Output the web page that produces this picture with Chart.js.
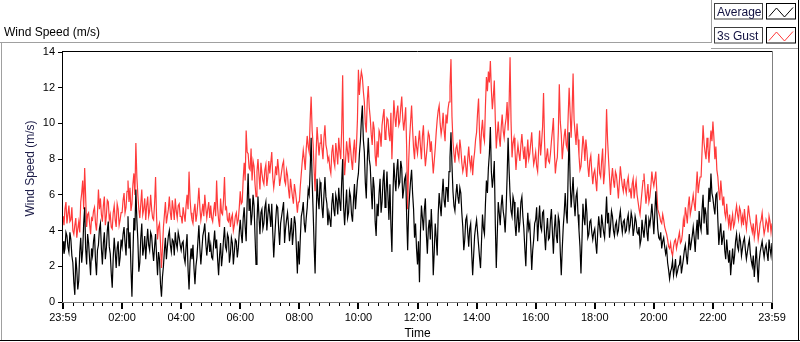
<!DOCTYPE html>
<html><head><meta charset="utf-8">
<script src="https://cdn.jsdelivr.net/npm/chart.js@4.4.0/dist/chart.umd.min.js"></script>
<style>html,body{margin:0;padding:0;background:#fff;}#wrap{width:800px;height:342px;}</style>
</head><body><div id="wrap"><canvas id="c" width="800" height="342"></canvas></div>
<script>
// ---- data ----
const STEP_MIN = 2; // one sample every 2 minutes, 00:00 .. 24:00 (one row per hour)
const tickLabels = ['23:59','02:00','04:00','06:00','08:00','10:00','12:00','14:00','16:00','18:00','20:00','22:00','23:59'];
const seriesNames = ['Average','3s Gust'];
const average = [
 3.4,2.7,3.0,3.9,3.7,3.1,2.8,3.9,3.5,2.6,2.2,1.1,0.4,2.5,1.8,0.7,1.2,2.8,3.6,2.2,2.9,4.4,5.3,3.0,2.1,3.8,3.3,2.4,1.5,3.0,
 2.6,3.4,3.8,2.3,1.5,2.9,3.2,4.1,4.4,3.0,2.1,3.3,3.9,2.4,3.0,4.0,4.5,3.1,2.7,1.6,0.8,2.5,3.6,2.8,1.9,3.0,3.4,2.0,2.5,3.5,
 3.1,3.8,4.2,3.3,2.6,4.1,4.8,3.0,3.9,1.9,0.3,2.6,4.7,4.0,6.3,4.6,3.5,1.7,2.2,3.6,4.4,2.6,3.0,3.7,2.4,3.3,4.1,3.2,2.9,3.9,
 3.7,2.9,2.3,3.1,3.8,2.6,1.5,2.8,2.4,1.0,0.3,1.4,2.0,2.9,3.6,2.4,3.1,3.7,4.0,3.2,2.8,3.5,3.4,2.6,3.9,3.3,3.0,3.9,3.6,3.2,
 2.9,3.3,3.4,2.5,2.2,3.1,3.8,1.8,0.7,2.2,3.0,2.4,3.2,1.9,1.0,2.0,2.5,3.4,4.3,3.0,2.1,2.9,3.7,4.0,4.4,3.3,2.6,3.2,3.9,2.8,
 3.2,2.5,2.4,3.3,4.0,3.0,3.5,2.4,1.5,2.6,3.3,2.0,2.6,3.5,4.2,3.1,2.9,3.8,3.6,2.2,2.7,3.6,3.3,2.1,2.8,3.5,3.4,2.5,3.0,3.9,
 4.6,3.8,3.3,4.7,5.3,4.2,3.4,5.6,7.2,5.1,5.8,4.3,4.9,6.0,5.4,3.7,2.1,4.5,5.9,4.8,3.8,5.0,5.2,4.1,4.4,5.3,5.6,4.0,4.8,5.5,
 4.9,4.2,5.5,3.9,2.5,3.6,4.6,5.4,5.3,4.1,3.2,4.4,4.8,5.2,5.6,3.3,4.1,4.6,5.0,4.3,3.4,4.0,4.7,3.2,3.9,4.8,4.4,3.0,1.6,3.4,
 2.1,3.6,4.8,5.1,5.6,4.4,3.9,4.7,5.3,6.3,6.0,7.4,9.2,6.8,5.1,3.2,1.6,4.5,6.9,5.8,5.2,6.7,6.4,5.3,4.7,6.0,7.0,5.9,5.5,4.3,
 5.0,4.6,4.2,5.5,6.1,5.2,4.8,6.0,5.7,4.9,6.4,5.6,5.1,6.7,8.0,5.3,4.3,5.4,6.3,4.7,5.0,6.2,5.9,4.9,4.5,5.7,6.6,5.2,6.0,6.8,
 7.2,8.3,9.0,10.2,11.0,9.1,8.4,6.7,5.8,7.9,9.2,8.0,7.6,6.3,5.2,7.0,6.4,4.5,3.7,5.5,4.8,6.1,6.9,5.0,5.6,6.8,7.4,5.3,6.1,7.3,
 5.9,4.6,6.6,4.3,2.8,5.9,7.8,6.9,6.2,7.4,8.0,6.5,6.7,7.9,7.5,5.8,6.3,6.9,7.1,4.8,2.9,5.1,6.0,6.8,7.4,6.1,5.2,3.6,4.4,3.0,
 2.1,3.4,1.1,3.9,5.4,4.7,4.0,5.2,5.8,3.8,2.7,4.1,4.6,3.5,5.2,3.9,1.5,2.8,4.4,3.6,2.6,4.9,6.1,5.4,4.8,6.0,6.9,5.7,5.3,6.4,
 6.4,5.6,7.3,8.1,9.5,7.7,6.2,5.4,5.1,6.0,6.6,5.9,5.5,6.4,6.1,5.0,4.2,2.9,3.5,4.6,4.8,3.9,3.1,4.1,4.4,2.8,1.5,2.6,3.7,4.2,
 4.6,3.9,3.2,2.5,1.9,3.4,4.9,4.1,3.8,5.5,6.8,6.1,7.5,8.3,9.8,7.3,6.4,7.0,7.9,4.4,1.9,3.8,5.6,5.0,4.3,5.4,6.0,5.1,4.7,3.9,
 5.2,7.0,9.2,7.4,6.0,5.1,4.8,5.9,5.6,4.4,3.7,4.6,5.3,3.9,4.5,5.6,5.9,4.8,4.1,3.0,2.0,3.8,5.0,4.1,4.4,3.2,1.8,2.9,3.5,4.4,
 4.6,5.3,3.4,4.5,5.4,4.2,4.0,5.0,5.1,3.8,2.9,4.0,4.7,3.5,3.6,4.6,5.2,3.9,2.7,4.1,4.9,3.7,3.3,4.8,4.5,2.8,1.5,3.0,4.2,5.0,
 6.1,5.0,4.4,7.2,9.5,6.8,5.3,6.1,7.0,5.6,4.8,5.9,6.2,4.9,4.0,3.1,1.6,3.4,5.5,4.7,4.3,5.8,5.0,3.6,3.8,4.5,4.6,3.9,3.5,3.9,
 4.1,3.3,2.7,3.9,4.8,4.2,3.6,4.9,4.4,3.9,3.6,4.7,5.9,4.4,5.0,3.6,4.2,5.1,4.8,4.0,3.7,4.3,4.5,3.8,4.0,4.7,5.1,4.4,3.9,4.5,
 4.6,3.9,4.0,4.6,4.9,4.0,4.3,5.0,4.7,3.7,4.1,4.8,4.5,3.9,3.8,4.2,3.2,3.5,4.6,4.0,3.6,4.3,4.9,3.9,3.4,4.6,4.3,4.8,5.5,4.7,
 3.8,5.0,6.2,5.1,4.1,3.6,3.5,3.9,3.0,3.4,3.6,3.1,2.7,3.0,2.2,1.8,1.3,1.7,1.9,2.3,1.5,1.9,2.4,1.5,1.7,2.0,2.1,2.6,1.6,2.0,
 2.4,2.9,3.2,2.6,2.1,3.0,3.8,2.9,3.3,3.7,4.2,3.6,2.8,3.9,4.6,3.5,5.1,4.3,4.0,5.2,6.0,4.4,5.3,4.9,3.8,5.1,6.4,5.6,7.2,6.1,
 5.8,5.3,4.9,6.0,6.1,4.6,3.2,3.9,4.4,3.2,3.6,4.0,2.9,2.4,3.5,2.8,2.2,2.9,1.5,2.3,3.0,2.1,2.6,3.4,3.8,3.1,2.9,3.7,3.4,2.6,
 3.0,3.4,3.6,2.9,2.4,2.8,3.2,3.5,2.7,2.3,2.0,2.6,1.4,2.2,3.1,2.0,1.1,2.3,2.8,3.1,3.4,2.9,2.5,3.0,3.2,2.7,2.3,3.5,3.0,2.6,3.3
];
const gust = [
 4.8,4.3,5.2,5.6,4.4,4.9,5.4,4.5,4.6,5.3,4.0,3.8,4.3,4.7,3.6,4.1,4.5,3.9,5.6,6.1,6.8,5.2,7.5,5.9,4.2,4.9,5.0,4.4,3.8,4.7,
 4.6,5.1,5.3,4.4,4.0,5.0,6.3,5.2,5.8,4.9,4.5,5.4,5.9,4.3,4.8,5.7,5.6,4.6,4.9,4.2,4.1,5.0,5.4,4.6,4.2,5.5,5.2,4.3,4.6,5.0,
 5.0,5.7,6.1,5.0,5.3,6.2,6.8,5.6,6.4,5.1,5.5,6.6,7.2,6.0,8.9,7.0,6.0,5.2,4.7,5.5,6.3,4.9,5.2,5.8,4.6,5.4,5.9,4.8,5.1,6.0,
 5.2,4.7,4.6,5.5,7.0,4.8,3.5,4.2,4.4,3.3,1.9,3.0,4.2,4.9,5.6,4.4,4.8,5.2,5.9,5.0,4.6,5.7,5.2,4.6,5.8,5.1,4.7,5.4,5.5,4.8,
 4.8,4.4,5.3,4.9,4.5,5.4,6.0,5.2,7.3,5.8,5.0,4.6,4.4,5.1,5.5,4.5,4.9,5.6,6.4,5.3,4.6,5.0,5.5,4.8,6.0,5.3,4.7,5.2,5.6,4.7,
 5.4,4.7,4.5,5.1,5.6,4.8,6.8,5.3,4.6,4.2,5.8,5.0,4.9,5.7,7.0,5.2,5.3,4.6,4.5,5.0,4.2,4.7,4.9,4.0,4.3,4.8,5.0,4.4,4.6,5.3,
 6.2,5.5,5.6,6.9,7.8,6.8,9.6,8.4,8.3,7.5,7.4,8.6,6.8,7.9,7.6,6.6,5.9,7.3,8.0,7.1,6.3,7.8,7.2,6.8,6.6,7.4,7.7,6.5,7.0,7.9,
 7.2,7.8,8.4,7.0,6.4,6.9,7.6,7.1,8.0,7.4,6.5,6.9,7.3,7.7,7.9,6.8,6.6,7.4,7.1,6.3,5.8,6.9,6.4,5.9,5.5,6.6,6.2,5.7,5.0,5.6,
 5.6,6.5,7.2,7.9,8.5,8.0,7.4,8.6,9.3,8.7,8.4,10.2,11.5,9.6,8.8,7.4,6.2,8.3,9.8,9.0,8.2,8.9,9.4,8.6,8.0,9.2,9.9,8.8,8.5,7.9,
 8.1,7.5,7.2,8.4,8.8,7.9,7.6,8.9,8.4,7.7,9.2,8.5,8.0,9.6,12.7,8.3,7.1,8.0,9.0,8.4,7.8,9.2,8.6,7.9,7.4,8.5,9.1,7.8,8.7,10.2,
 13.0,11.6,12.4,12.9,12.6,11.8,11.2,10.0,9.5,11.3,12.1,10.9,10.3,9.4,8.8,10.1,9.7,8.2,7.6,9.0,8.1,9.6,9.4,8.7,9.9,10.4,10.8,9.1,9.5,10.3,
 10.2,9.4,9.0,10.6,8.0,9.7,11.3,10.4,9.8,10.6,11.0,9.9,10.1,10.9,11.5,10.3,9.6,10.2,10.9,8.6,5.2,7.8,9.2,10.1,11.0,9.7,8.6,8.0,9.3,8.7,
 8.3,9.0,9.6,8.7,8.0,9.3,9.9,8.5,7.6,8.2,8.8,9.5,9.3,8.4,9.0,8.1,7.2,7.9,8.6,9.5,10.2,10.7,11.0,10.0,9.4,9.8,10.6,9.6,9.0,10.5,
 10.0,10.8,11.2,12.1,13.6,10.4,9.0,8.3,7.8,8.6,8.8,8.3,8.0,9.1,8.6,7.8,7.3,7.6,8.2,7.6,7.0,8.0,8.7,7.9,7.5,8.2,7.1,7.9,8.4,9.1,
 9.5,10.6,11.4,9.4,8.3,9.6,10.2,9.3,9.0,11.0,12.6,11.8,12.9,12.3,13.5,11.9,10.8,11.5,12.4,10.2,8.6,9.4,10.1,9.2,8.7,9.8,10.5,9.6,9.2,9.9,
 10.3,11.2,9.6,11.0,13.7,10.1,8.1,8.9,9.2,8.5,7.4,8.2,8.8,8.3,7.9,8.8,9.4,8.6,8.0,8.7,7.5,8.2,9.1,8.0,8.3,8.9,9.5,8.4,7.7,8.0,
 8.4,7.6,7.3,8.5,9.6,8.2,8.9,9.8,11.7,9.0,7.5,8.1,8.6,7.9,7.8,8.3,9.0,9.6,10.3,8.4,7.2,7.8,8.1,9.5,12.2,10.1,9.4,8.0,8.7,9.3,
 9.7,8.8,8.6,10.4,12.0,10.6,9.2,10.7,12.8,10.2,9.5,8.8,10.0,9.1,8.2,7.4,7.6,8.4,9.3,8.8,7.9,9.1,8.5,7.6,7.0,7.9,8.2,7.3,6.6,7.2,
 7.4,6.8,6.2,7.5,8.3,7.2,7.0,7.9,8.6,6.6,7.2,8.4,10.8,9.1,8.0,7.0,6.0,6.9,7.5,6.8,6.4,7.3,7.1,6.5,5.8,6.7,7.6,7.0,6.5,6.2,
 6.9,6.4,6.1,6.7,7.0,6.2,6.3,5.8,6.6,6.9,5.8,6.4,6.8,6.0,5.6,5.2,4.9,5.6,6.2,6.8,7.2,6.3,5.5,6.0,6.6,5.6,5.9,6.5,7.3,6.8,
 6.5,6.9,7.3,6.2,5.2,5.0,4.8,4.5,4.4,4.9,4.6,4.2,4.0,3.8,3.5,3.1,3.0,3.3,2.8,2.6,3.1,3.4,3.5,3.0,3.3,3.6,3.9,3.3,3.4,3.8,
 4.6,4.2,5.3,4.9,4.4,5.4,5.9,4.9,5.2,5.6,6.0,5.5,5.1,6.4,7.3,6.1,6.6,7.0,7.0,8.5,9.9,8.9,8.4,8.0,9.2,8.6,7.8,8.8,9.6,9.0,
 10.1,9.2,8.0,8.7,7.4,7.0,6.2,5.7,6.8,6.1,5.4,5.9,5.0,4.7,5.5,4.8,4.3,4.9,4.0,4.5,4.9,4.2,4.4,5.0,5.4,4.9,4.6,5.3,5.1,4.4,
 4.8,4.3,5.2,4.6,4.1,4.7,5.4,4.9,4.5,4.2,3.9,4.4,3.6,4.0,4.9,4.2,3.5,3.9,4.4,4.6,5.0,4.3,3.8,4.1,4.6,4.4,3.9,4.8,4.5,3.9,4.4
];
const times = average.map((_, i) => i * STEP_MIN);

// ---- styling ----
const FONT = "'Liberation Sans', Arial, sans-serif";
const RED = '#ff3a3a';
const TEXT_NAVY = '#1c1c48';

function hline(ctx, x1, x2, y, c, w) { ctx.strokeStyle = c; ctx.lineWidth = w || 1; ctx.beginPath(); ctx.moveTo(x1, y); ctx.lineTo(x2, y); ctx.stroke(); }
function vline(ctx, x, y1, y2, c, w) { ctx.strokeStyle = c; ctx.lineWidth = w || 1; ctx.beginPath(); ctx.moveTo(x, y1); ctx.lineTo(x, y2); ctx.stroke(); }

const deco = {
  id: 'deco',
  beforeDraw(chart) {
    const ctx = chart.ctx;
    ctx.save();
    ctx.fillStyle = '#ffffff';
    ctx.fillRect(0, 0, chart.width, chart.height);
    ctx.restore();
  },
  afterDraw(chart) {
    const ctx = chart.ctx, a = chart.chartArea, xs = chart.scales.x;
    ctx.save();
    // outer panel frame
    hline(ctx, 0, 712, 42.5, '#a0a0a0');
    vline(ctx, 1.5, 42, 341, '#a0a0a0');
    hline(ctx, 0, 800, 340.5, '#000000');
    vline(ctx, 798.5, 0, 341, '#000000');
    // legend panel edges
    vline(ctx, 711.5, 0, 43, '#a0a0a0');
    hline(ctx, 711, 798, 48.5, '#a0a0a0');
    // plot box
    hline(ctx, a.left - 1, a.right + 1, a.top - 0.5, '#000000');
    vline(ctx, a.left - 0.5, a.top - 1, a.bottom + 1, '#000000');
    hline(ctx, a.left - 1, a.right + 1, a.bottom + 0.5, '#808080');
    vline(ctx, a.right + 0.5, a.top - 1, a.bottom + 1, '#808080');
    // x tick marks (major every 2h, minor every 20 min)
    xs.ticks.forEach(t => {
      const px = Math.round(xs.getPixelForValue(t.value));
      ctx.fillStyle = '#000';
      if (t.value % 120 === 0) ctx.fillRect(px - 1, a.bottom + 1, 2, 6);
      else ctx.fillRect(px, a.bottom + 1, 1, 3);
    });
    // graph title
    ctx.fillStyle = '#000000';
    ctx.font = '12px ' + FONT;
    ctx.textBaseline = 'alphabetic';
    ctx.textAlign = 'left';
    ctx.fillText('Wind Speed (m/s)', 4, 35.5);
    // y axis title
    ctx.save();
    ctx.translate(31, 168.5);
    ctx.rotate(-Math.PI / 2);
    ctx.textAlign = 'center';
    ctx.textBaseline = 'middle';
    ctx.fillStyle = TEXT_NAVY;
    ctx.fillText('Wind Speed (m/s)', 0, 0);
    ctx.restore();
    // legend
    const rows = [{y: 3.5}, {y: 27.5}];
    chart.data.datasets.forEach((ds, i) => {
      const y0 = rows[i].y;
      ctx.strokeStyle = '#404040'; ctx.lineWidth = 1;
      ctx.strokeRect(714.5, y0, 48, 15.5);
      ctx.strokeStyle = '#000000';
      ctx.strokeRect(766.5, y0, 29, 15.5);
      ctx.fillStyle = '#101040';
      ctx.font = '12px ' + FONT;
      ctx.textAlign = 'left';
      ctx.textBaseline = 'alphabetic';
      ctx.fillText(ds.label, 717, y0 + 12.5);
      ctx.strokeStyle = ds.borderColor; ctx.lineWidth = 1;
      ctx.beginPath();
      ctx.moveTo(769, y0 + 13); ctx.lineTo(776.5, y0 + 4.5);
      ctx.lineTo(784.5, y0 + 13.5); ctx.lineTo(793, y0 + 4);
      ctx.stroke();
    });
    ctx.restore();
  }
};

new Chart(document.getElementById('c'), {
  type: 'line',
  data: {
    datasets: [
      { label: seriesNames[0], data: times.map((t, i) => ({x: t, y: average[i]})), borderColor: '#000000', borderWidth: 1.2, pointRadius: 0, tension: 0, order: 0 },
      { label: seriesNames[1], data: times.map((t, i) => ({x: t, y: gust[i]})), borderColor: RED, borderWidth: 1.2, pointRadius: 0, tension: 0, order: 1 }
    ]
  },
  options: {
    responsive: false, animation: false, devicePixelRatio: 1,
    layout: { padding: { top: 52, right: 28, left: 0, bottom: 0 } },
    plugins: { legend: { display: false }, tooltip: { enabled: false }, title: { display: false } },
    scales: {
      x: {
        type: 'linear', min: 0, max: 1440,
        afterFit(s) { s.height = 40; },
        grid: { display: false, drawTicks: false },
        border: { display: false },
        ticks: { stepSize: 20, autoSkip: false, maxRotation: 0, minRotation: 0, padding: 9, color: '#000',
          font: { family: FONT, size: 11 },
          callback: (v) => (v % 120 === 0 ? tickLabels[v / 120] : '') },
        title: { display: true, text: 'Time', color: '#000', font: { family: FONT, size: 12 }, padding: { top: 0, bottom: 1 } }
      },
      y: {
        min: 0, max: 14,
        afterFit(s) { s.width = 63; },
        grid: { display: true, drawOnChartArea: false, drawTicks: true, tickLength: 5, color: '#000', tickColor: '#000' },
        border: { display: false },
        ticks: { stepSize: 2, padding: 3, color: '#000', font: { family: FONT, size: 11 } },
        title: { display: false }
      }
    }
  },
  plugins: [deco]
});
</script>
</body></html>
